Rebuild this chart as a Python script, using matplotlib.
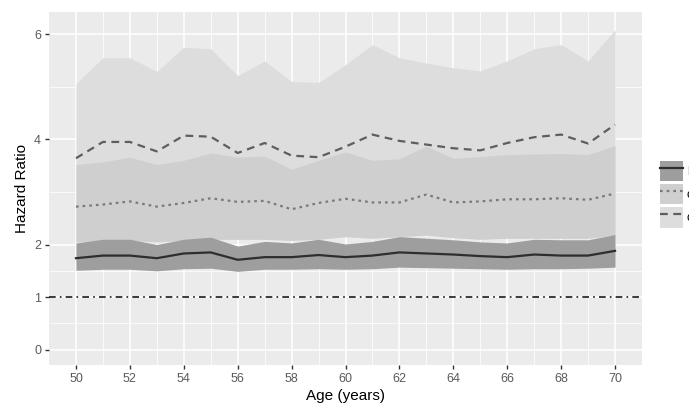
import matplotlib
matplotlib.use("Agg")
import matplotlib.pyplot as plt
from matplotlib.patches import Patch
from matplotlib.lines import Line2D
from matplotlib.legend_handler import HandlerTuple

plt.rcParams['font.family'] = ['Liberation Sans', 'DejaVu Sans']

age = list(range(50, 71))

# dark band (estimate 1) with its central line
est1 = [1.74, 1.79, 1.79, 1.74, 1.83, 1.85, 1.71, 1.76, 1.76, 1.80, 1.76,
        1.79, 1.85, 1.83, 1.81, 1.78, 1.76, 1.81, 1.79, 1.79, 1.88]
est1_lo = [1.51, 1.53, 1.53, 1.50, 1.54, 1.55, 1.49, 1.53, 1.53, 1.54, 1.53,
           1.54, 1.57, 1.56, 1.55, 1.54, 1.53, 1.54, 1.54, 1.55, 1.57]
est1_hi = [2.03, 2.10, 2.10, 2.00, 2.10, 2.14, 1.97, 2.06, 2.03, 2.10, 2.01,
           2.06, 2.15, 2.12, 2.09, 2.05, 2.03, 2.10, 2.09, 2.09, 2.19]

# medium band (estimate 2) with dotted central line
est2 = [2.72, 2.76, 2.82, 2.72, 2.79, 2.88, 2.81, 2.83, 2.67, 2.79, 2.87,
        2.80, 2.80, 2.95, 2.80, 2.82, 2.86, 2.86, 2.88, 2.85, 2.97]
est2_lo = [2.05, 2.08, 2.08, 2.05, 2.08, 2.10, 2.10, 2.10, 2.08, 2.10, 2.15,
           2.12, 2.15, 2.18, 2.13, 2.10, 2.12, 2.12, 2.12, 2.12, 2.18]
est2_hi = [3.52, 3.57, 3.66, 3.52, 3.60, 3.74, 3.66, 3.68, 3.43, 3.60, 3.76,
           3.60, 3.63, 3.87, 3.64, 3.67, 3.71, 3.72, 3.73, 3.71, 3.88]

# light band (estimate 3) with dashed central line
est3 = [3.64, 3.95, 3.95, 3.77, 4.07, 4.05, 3.74, 3.93, 3.69, 3.66, 3.86,
        4.09, 3.97, 3.90, 3.83, 3.79, 3.93, 4.04, 4.09, 3.92, 4.28]
est3_lo = est2_lo
est3_hi = [5.06, 5.55, 5.55, 5.29, 5.75, 5.72, 5.21, 5.49, 5.10, 5.08, 5.42,
           5.80, 5.55, 5.45, 5.36, 5.30, 5.49, 5.72, 5.80, 5.49, 6.08]

ref_line = 1.0
labels = ["baseline", "combined", "conditional"]
y_ticks = [0, 1, 2, 4, 6]
y_minor = [0.5, 1.5, 3, 5]
x_ticks = list(range(50, 71, 2))
x_minor = list(range(51, 71, 2))

W, H = 689, 403
fig = plt.figure(figsize=(W / 100, H / 100), dpi=100)
ax = fig.add_axes([49 / W, (H - 365) / H, (642 - 49) / W, (365 - 12) / H])
ax.set_facecolor('#EBEBEB')
for s in ax.spines.values():
    s.set_visible(False)

ax.set_xlim(49, 71)
ax.set_ylim(-0.29, 6.42)
ax.set_xticks(x_ticks)
ax.set_xticks(x_minor, minor=True)
ax.set_yticks(y_ticks)
ax.set_yticks(y_minor, minor=True)
ax.grid(True, which='major', color='white', lw=1.1)
ax.grid(True, which='minor', color='white', lw=0.55)
ax.set_axisbelow(True)
ax.tick_params(which='major', length=2.7, width=1.0, color='#333333',
               labelcolor='#5A5A5A', labelsize=9, pad=3)
ax.tick_params(which='minor', length=0)

c_dark, c_med, c_light = '#9E9E9E', '#CFCFCF', '#DDDDDD'
ax.fill_between(age, est3_lo, est3_hi, color=c_light, lw=0, zorder=1)
ax.fill_between(age, est2_lo, est2_hi, color=c_med, lw=0, zorder=2)
ax.fill_between(age, est1_lo, est1_hi, color=c_dark, lw=0, zorder=3)

ax.plot(age, est1, color='#2E2E2E', lw=1.6, ls='-', zorder=4)
ax.plot(age, est2, color='#7A7A7A', lw=1.6, ls=(0, (1.2, 1.8)), zorder=4)
ax.plot(age, est3, color='#5E5E5E', lw=1.6, ls=(0, (3.5, 2.5)), zorder=4)
ax.axhline(ref_line, color='#1A1A1A', lw=1.2, ls=(0, (4, 2.5, 1, 2.5)), zorder=4)

ax.set_xlabel('Age (years)', fontsize=11, color='black', labelpad=3)
ax.set_ylabel('Hazard Ratio', fontsize=11, color='black', labelpad=4)

handles = [
    (Patch(fc=c_dark, ec='none'), Line2D([], [], color='#2E2E2E', lw=1.6)),
    (Patch(fc=c_med, ec='none'), Line2D([], [], color='#7A7A7A', lw=1.6, ls=(0, (1.2, 1.8)))),
    (Patch(fc=c_light, ec='none'), Line2D([], [], color='#5E5E5E', lw=1.6, ls=(0, (3.5, 2.5)))),
]
fs = 9
pxpt = fs * 100 / 72
fig.legend(handles, labels, handler_map={tuple: HandlerTuple(ndivide=1)},
           loc='upper left', bbox_to_anchor=(660 / W, 1 - 161 / H),
           frameon=False, fontsize=fs, borderpad=0, borderaxespad=0,
           handlelength=23 / pxpt, handleheight=(22 + 0.35 * pxpt) / pxpt,
           labelspacing=3 / pxpt, handletextpad=0.3)

fig.savefig('out.png', dpi=100)
